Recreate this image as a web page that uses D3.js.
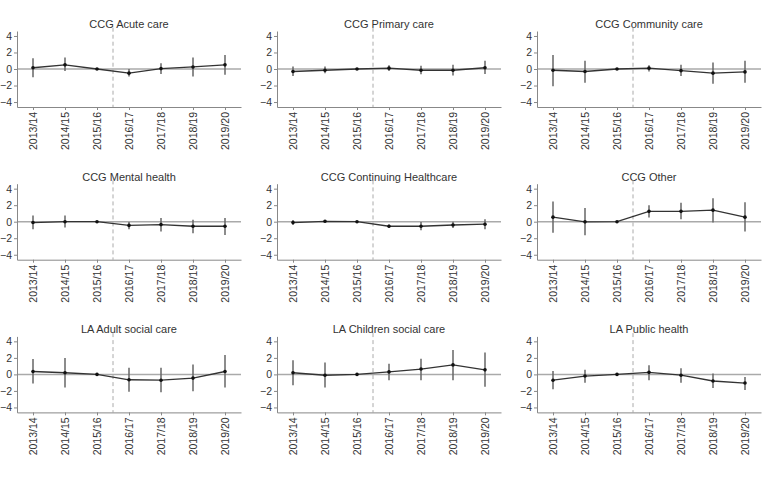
<!DOCTYPE html>
<html>
<head>
<meta charset="utf-8">
<script src="https://cdn.jsdelivr.net/npm/d3@7"></script>
<style>
  body { margin: 0; background: #fff; }
  text { font-family: "Liberation Sans", Arial, sans-serif; fill: #333; }
</style>
</head>
<body>
<svg id="chart" width="780" height="481"></svg>
<script>
var years = ["2013/14", "2014/15", "2015/16", "2016/17", "2017/18", "2018/19", "2019/20"];
var yTicks = [4, 2, 0, -2, -4];

var panelTitles = ["CCG Acute care", "CCG Primary care", "CCG Community care",
  "CCG Mental health", "CCG Continuing Healthcare", "CCG Other",
  "LA Adult social care", "LA Children social care", "LA Public health"];

// point estimates per panel (2015/16 is the reference year)
var estimates = [
  [0.15, 0.5, 0, -0.5, 0.05, 0.25, 0.5],
  [-0.3, -0.15, 0, 0.1, -0.15, -0.15, 0.15],
  [-0.15, -0.3, 0, 0.1, -0.2, -0.5, -0.35],
  [-0.1, 0, 0, -0.45, -0.35, -0.55, -0.55],
  [-0.1, 0.05, 0, -0.55, -0.55, -0.4, -0.3],
  [0.55, -0.02, 0, 1.25, 1.25, 1.4, 0.55],
  [0.35, 0.2, 0, -0.65, -0.7, -0.45, 0.35],
  [0.2, -0.1, 0, 0.3, 0.65, 1.15, 0.55],
  [-0.7, -0.2, 0, 0.25, -0.1, -0.8, -1.05]
];

// confidence interval bounds (null = no interval)
var ciLow = [
  [-1.0, -0.25, null, -0.9, -0.6, -0.9, -0.7],
  [-0.85, -0.5, null, -0.25, -0.65, -0.8, -0.6],
  [-2.1, -1.65, null, -0.3, -0.85, -1.8, -1.65],
  [-0.9, -0.7, null, -0.9, -1.2, -1.4, -1.6],
  [-0.4, -0.1, null, -0.75, -1.05, -0.75, -0.9],
  [-1.35, -1.65, null, 0.5, 0.3, -0.1, -1.2],
  [-1.1, -1.6, null, -2.1, -2.15, -2.05, -1.6],
  [-1.3, -1.6, null, -0.7, -0.7, -0.7, -1.5],
  [-1.8, -1.0, null, -0.7, -1.0, -1.65, -1.9]
];
var ciHigh = [
  [1.3, 1.4, null, 0, 0.7, 1.4, 1.7],
  [0.3, 0.3, null, 0.45, 0.4, 0.5, 1.0],
  [1.7, 1.0, null, 0.45, 0.5, 0.8, 1.0],
  [0.75, 0.75, null, -0.05, 0.45, 0.25, 0.45],
  [0.2, 0.15, null, -0.35, -0.05, 0, 0.3],
  [2.45, 1.65, null, 2.0, 2.3, 2.85, 2.35],
  [1.85, 2.0, null, 0.8, 0.8, 1.2, 2.35],
  [1.7, 1.45, null, 1.3, 1.9, 2.95, 2.65],
  [0.4, 0.55, null, 1.1, 0.75, 0.1, -0.3]
];

var svg = d3.select("#chart");
var panelW = 260, panelH = 152.7;

var xScale = d3.scaleLinear()
  .domain([-0.5, years.length - 0.5])
  .range([17, 241]);

var yScale = d3.scaleLinear()
  .domain([-4.6, 4.6])
  .range([107, 31]);

panelTitles.forEach(function(title, p) {
  var col = p % 3, row = Math.floor(p / 3);
  var g = svg.append("g")
    .attr("transform", "translate(" + (col * panelW) + "," + (row * panelH) + ")");

  var pts = years.map(function(y, i) {
    return { i: i, est: estimates[p][i], lo: ciLow[p][i], hi: ciHigh[p][i] };
  });

  // title
  g.append("text")
    .attr("x", (xScale.range()[0] + xScale.range()[1]) / 2)
    .attr("y", 28)
    .style("text-anchor", "middle")
    .style("font-size", "11px")
    .text(title);

  // zero line
  g.append("line")
    .attr("x1", xScale.range()[0]).attr("x2", xScale.range()[1])
    .attr("y1", yScale(0)).attr("y2", yScale(0))
    .attr("stroke", "#aaa").attr("stroke-width", 1.5);

  // policy line between 2015/16 and 2016/17
  g.append("line")
    .attr("x1", xScale(2.5)).attr("x2", xScale(2.5))
    .attr("y1", yScale(5.0)).attr("y2", yScale(-4.6))
    .attr("stroke", "#aaa").attr("stroke-width", 1)
    .attr("stroke-dasharray", "4,3");

  // y axis
  var yAxis = g.append("g")
    .attr("transform", "translate(" + xScale.range()[0] + ",0)")
    .call(d3.axisLeft(yScale).tickValues(yTicks).tickSize(3).tickSizeOuter(0).tickPadding(2));
  yAxis.select(".domain").attr("stroke", "#888");
  yAxis.selectAll(".tick line").attr("stroke", "#888");
  yAxis.selectAll("text").style("font-size", "10.5px").attr("fill", "#333");

  // x axis
  var xAxis = g.append("g")
    .attr("transform", "translate(0," + yScale.range()[0] + ")")
    .call(d3.axisBottom(xScale).tickValues(d3.range(years.length))
      .tickFormat(function(d) { return years[d]; })
      .tickSize(3).tickSizeOuter(0));
  xAxis.select(".domain").attr("stroke", "#888");
  xAxis.selectAll(".tick line").attr("stroke", "#888");
  xAxis.selectAll("text")
    .style("font-size", "10.5px")
    .attr("fill", "#333")
    .style("text-anchor", "end")
    .attr("transform", "rotate(-90)")
    .attr("x", -5)
    .attr("y", 0)
    .attr("dy", "0.35em");

  // error bars
  g.selectAll(".ci")
    .data(pts.filter(function(d) { return d.lo !== null; }))
    .enter()
    .append("line")
    .attr("class", "ci")
    .attr("x1", function(d) { return xScale(d.i); })
    .attr("x2", function(d) { return xScale(d.i); })
    .attr("y1", function(d) { return yScale(d.lo); })
    .attr("y2", function(d) { return yScale(d.hi); })
    .attr("stroke", "#666")
    .attr("stroke-width", 1.5);

  // estimate line
  var line = d3.line()
    .x(function(d) { return xScale(d.i); })
    .y(function(d) { return yScale(d.est); });

  g.append("path")
    .datum(pts)
    .attr("d", line)
    .attr("fill", "none")
    .attr("stroke", "#333")
    .attr("stroke-width", 1.3);

  g.selectAll(".pt")
    .data(pts)
    .enter()
    .append("circle")
    .attr("class", "pt")
    .attr("cx", function(d) { return xScale(d.i); })
    .attr("cy", function(d) { return yScale(d.est); })
    .attr("r", 1.8)
    .attr("fill", "#111");
});
</script>
</body>
</html>
